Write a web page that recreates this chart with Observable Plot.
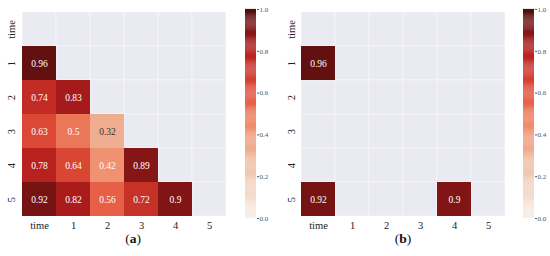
<!DOCTYPE html>
<html><head><meta charset="utf-8">
<script src="https://cdn.jsdelivr.net/npm/d3@7"></script>
<script src="https://cdn.jsdelivr.net/npm/@observablehq/plot@0.6"></script>
<style>
body{margin:0;background:#fff;}
#wrap{position:relative;width:550px;height:256px;overflow:hidden;font-family:"Liberation Serif",serif;}
.abs{position:absolute;}
.cap{position:absolute;top:231px;font-size:13.5px;color:#111;transform:translateX(-50%);}
</style></head>
<body><div id="wrap"></div>
<script>
const labels = ["time","1","2","3","4","5"];
// panel (a): lower-triangle correlation values
const cellsA = [
  {row:"1", col:"time", value:0.96},
  {row:"2", col:"time", value:0.74},{row:"2", col:"1", value:0.83},
  {row:"3", col:"time", value:0.63},{row:"3", col:"1", value:0.5},{row:"3", col:"2", value:0.32},
  {row:"4", col:"time", value:0.78},{row:"4", col:"1", value:0.64},{row:"4", col:"2", value:0.42},{row:"4", col:"3", value:0.89},
  {row:"5", col:"time", value:0.92},{row:"5", col:"1", value:0.82},{row:"5", col:"2", value:0.56},{row:"5", col:"3", value:0.72},{row:"5", col:"4", value:0.9}
];
// panel (b): retained (thresholded) values
const cellsB = [
  {row:"1", col:"time", value:0.96},
  {row:"5", col:"time", value:0.92},
  {row:"5", col:"4", value:0.9}
];
const cbTicks = [0,0.2,0.4,0.6,0.8,1.0];

const colorScale = {type:"linear", domain:[0,0.25,0.45,0.6,0.8,1], range:["#f7efe9","#efc2a6","#f08a68","#e2503a","#b41c1c","#4d0d0d"], clamp:true};
const grid = labels.flatMap(r => labels.map(c => ({row:r, col:c})));
const font = "Liberation Serif";

function heat(cells, w, ml){
  return Plot.plot({
    width: w, height: 232, marginLeft: ml, marginRight: 0, marginTop: 9, marginBottom: 14,
    style:{fontFamily:font, background:"transparent", color:"#222"},
    x:{domain:labels, padding:0, axis:null, label:null},
    y:{domain:labels, padding:0, axis:null, label:null},
    color: colorScale,
    marks:[
      Plot.cell(grid, {x:"col", y:"row", fill:"#eaeaf2", stroke:"#ffffff", strokeWidth:0.6, strokeOpacity:0.7}),
      Plot.cell(cells, {x:"col", y:"row", fill:"value"}),
      Plot.text(cells.filter(d => d.value > 0.35), {x:"col", y:"row", text:d => String(d.value), fill:"white", fontSize:9.5}),
      Plot.text(cells.filter(d => d.value <= 0.35), {x:"col", y:"row", text:d => String(d.value), fill:"#333", fontSize:9.5}),
      Plot.axisX({tickSize:0, tickPadding:3, fontSize:10.5, label:null}),
      Plot.axisY({tickSize:0, tickPadding:5, tickRotate:-90, fontSize:10.5, label:null})
    ]
  });
}
function bar(){
  const steps = d3.range(0, 1, 0.005);
  return Plot.plot({
    width: 32, height: 232, marginLeft: 0, marginRight: 21, marginTop: 9, marginBottom: 14,
    style:{fontFamily:font, background:"transparent", color:"#555"},
    x:{axis:null, domain:[0,1]},
    y:{domain:[0,1], axis:null},
    color: colorScale,
    marks:[
      Plot.rect(steps, {x1:() => 0, x2:() => 1, y1:d => d, y2:d => d + 0.0055, fill:d => d}),
      Plot.axisY({anchor:"right", ticks:cbTicks, tickFormat:d3.format(".1f"), tickSize:2, tickPadding:1, fontSize:7, label:null})
    ]
  });
}
const wrap = document.getElementById("wrap");
function place(node, left, top){ node.classList.add("abs"); node.style.left = left+"px"; node.style.top = top+"px"; wrap.appendChild(node); }
place(heat(cellsA, 228, 19), 0, 0);
place(bar(), 245, 0);
place(heat(cellsB, 231, 24), 275, 0);
place(bar(), 523, 0);
for (const [t, x] of [["a",133],["b",403]]) {
  const d = document.createElement("div");
  d.className = "cap"; d.style.left = x+"px";
  d.innerHTML = "(<b>"+t+"</b>)";
  wrap.appendChild(d);
}
</script></body></html>
